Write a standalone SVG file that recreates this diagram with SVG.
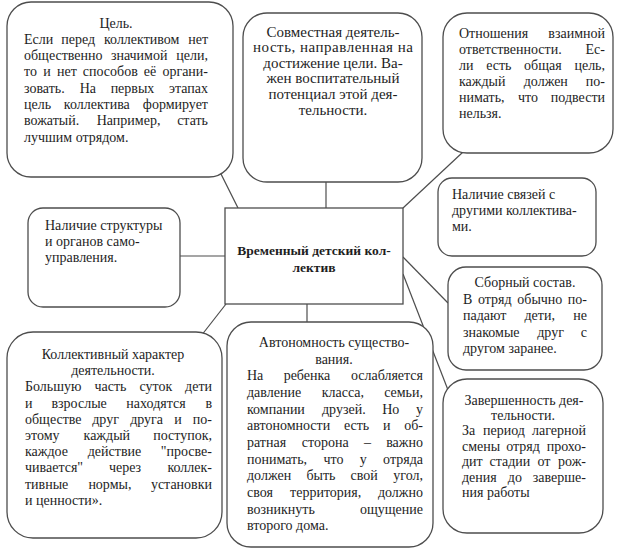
<svg xmlns="http://www.w3.org/2000/svg" width="619" height="549" viewBox="0 0 619 549">
<style>
.b{fill:#fff;stroke:#4d4d4d;stroke-width:1.3}
.t{font-family:'Liberation Serif','Times New Roman',serif;font-size:14px;fill:#1e1e1e}
.big{font-size:15px}
.h{font-weight:bold;font-size:13.5px}
.c{text-anchor:middle}
.e{text-anchor:end}
.ln{stroke:#4d4d4d;stroke-width:1.2;fill:none}
</style>
<rect width="619" height="549" fill="#fff"/>
<g id="connectors">
<line class="ln" x1="238" y1="208" x2="217" y2="166"/>
<line class="ln" x1="326" y1="182" x2="326" y2="208"/>
<line class="ln" x1="403" y1="208" x2="463" y2="152"/>
<line class="ln" x1="180" y1="256" x2="225" y2="256"/>
<line class="ln" x1="403" y1="257" x2="448" y2="303"/>
<line class="ln" x1="403" y1="274" x2="448" y2="390"/>
<line class="ln" x1="226" y1="304" x2="201" y2="336"/>
<line class="ln" x1="307" y1="304" x2="307" y2="322"/>
</g>
<g id="n-goal">
<rect class="b" x="7" y="2" width="226" height="175" rx="24"/>
<text class="t c" x="116" y="27.5">Цель.</text>
<text class="t" y="43.8"><tspan x="24">Если</tspan><tspan x="78.3" class="c">перед</tspan><tspan x="141.7" class="c">коллективом</tspan><tspan x="208" class="e">нет</tspan></text>
<text class="t" y="60.1"><tspan x="24">общественно</tspan><tspan x="139.2" class="c">значимой</tspan><tspan x="208" class="e">цели,</tspan></text>
<text class="t" y="76.4"><tspan x="24">то</tspan><tspan x="47.1" class="c">и</tspan><tspan x="66.9" class="c">нет</tspan><tspan x="110.3" class="c">способов</tspan><tspan x="149.9" class="c">её</tspan><tspan x="208" class="e">органи-</tspan></text>
<text class="t" y="92.7"><tspan x="24">зовать.</tspan><tspan x="87.9" class="c">На</tspan><tspan x="132.5" class="c">первых</tspan><tspan x="208" class="e">этапах</tspan></text>
<text class="t" y="109"><tspan x="24">цель</tspan><tspan x="96.8" class="c">коллектива</tspan><tspan x="208" class="e">формирует</tspan></text>
<text class="t" y="125.3"><tspan x="24">вожатый.</tspan><tspan x="128.6" class="c">Например,</tspan><tspan x="208" class="e">стать</tspan></text>
<text class="t" x="24" y="141.6">лучшим отрядом.</text>
</g>
<g id="n-joint">
<rect class="b" x="243" y="13" width="179" height="169" rx="24"/>
<text class="t big c" x="333" y="36.5">Совместная деятель-</text>
<text class="t big c" x="333" y="52.1" textLength="160" lengthAdjust="spacing">ность, направленная на</text>
<text class="t big c" x="333" y="67.7">достижение цели. Ва-</text>
<text class="t big c" x="333" y="83.3">жен воспитательный</text>
<text class="t big c" x="333" y="98.9">потенциал этой дея-</text>
<text class="t big c" x="333" y="114.5">тельности.</text>
</g>
<g id="n-resp">
<rect class="b" x="443" y="13" width="170" height="140" rx="24"/>
<text class="t" y="37.8"><tspan x="459">Отношения</tspan><tspan x="605" class="e">взаимной</tspan></text>
<text class="t" y="53.8"><tspan x="459">ответственности.</tspan><tspan x="605" class="e">Ес-</tspan></text>
<text class="t" y="69.8"><tspan x="459">ли</tspan><tspan x="498.8" class="c">есть</tspan><tspan x="542.8" class="c">общая</tspan><tspan x="605" class="e">цель,</tspan></text>
<text class="t" y="85.8"><tspan x="459">каждый</tspan><tspan x="545.8" class="c">должен</tspan><tspan x="605" class="e">по-</tspan></text>
<text class="t" y="101.8"><tspan x="459">нимать,</tspan><tspan x="527.9" class="c">что</tspan><tspan x="605" class="e">подвести</tspan></text>
<text class="t" x="459" y="117.8">нельзя.</text>
</g>
<g id="n-struct">
<rect class="b" x="28" y="208" width="152" height="99" rx="15"/>
<text class="t" x="45" y="229.5">Наличие структуры</text>
<text class="t" x="45" y="245.5">и органов само-</text>
<text class="t" x="45" y="261.5">управления.</text>
</g>
<g id="n-center">
<rect class="b" x="225" y="208" width="178" height="96"/>
<text class="t h c" x="314" y="254.5">Временный детский кол-</text>
<text class="t h c" x="314" y="272">лектив</text>
</g>
<g id="n-links">
<rect class="b" x="438" y="178" width="158" height="78" rx="14"/>
<text class="t" x="452" y="199">Наличие связей с</text>
<text class="t" x="452" y="215">другими коллектива-</text>
<text class="t" x="452" y="231">ми.</text>
</g>
<g id="n-mixed">
<rect class="b" x="448" y="267" width="154" height="103" rx="18"/>
<text class="t c" x="525" y="287">Сборный состав.</text>
<text class="t" y="303.6"><tspan x="463">В</tspan><tspan x="494.8" class="c">отряд</tspan><tspan x="539.8" class="c">обычно</tspan><tspan x="587" class="e">по-</tspan></text>
<text class="t" y="320.2"><tspan x="463">падают</tspan><tspan x="539.7" class="c">дети,</tspan><tspan x="587" class="e">не</tspan></text>
<text class="t" y="336.8"><tspan x="463">знакомые</tspan><tspan x="550.6" class="c">друг</tspan><tspan x="587" class="e">с</tspan></text>
<text class="t" x="463" y="353.4">другом заранее.</text>
</g>
<g id="n-complete">
<rect class="b" x="443" y="379" width="160" height="154" rx="24"/>
<text class="t c" x="524" y="404.5">Завершенность дея-</text>
<text class="t c" x="523" y="419.9">тельности.</text>
<text class="t" y="435.3"><tspan x="462">За</tspan><tspan x="503.9" class="c">период</tspan><tspan x="586" class="e">лагерной</tspan></text>
<text class="t" y="450.7"><tspan x="462">смены</tspan><tspan x="523" class="c">отряд</tspan><tspan x="586" class="e">прохо-</tspan></text>
<text class="t" y="466.1"><tspan x="462">дит</tspan><tspan x="509.9" class="c">стадии</tspan><tspan x="543.9" class="c">от</tspan><tspan x="586" class="e">рож-</tspan></text>
<text class="t" y="481.5"><tspan x="462">дения</tspan><tspan x="514.9" class="c">до</tspan><tspan x="586" class="e">заверше-</tspan></text>
<text class="t" x="462" y="497">ния работы</text>
</g>
<g id="n-collective">
<rect class="b" x="7" y="332" width="215" height="206" rx="26"/>
<text class="t c" x="113" y="359">Коллективный характер</text>
<text class="t c" x="113" y="375.2">деятельности.</text>
<text class="t" y="391.4"><tspan x="25">Большую</tspan><tspan x="110.5" class="c">часть</tspan><tspan x="155.9" class="c">суток</tspan><tspan x="212" class="e">дети</tspan></text>
<text class="t" y="407.6"><tspan x="25">и</tspan><tspan x="79.1" class="c">взрослые</tspan><tspan x="156" class="c">находятся</tspan><tspan x="212" class="e">в</tspan></text>
<text class="t" y="423.8"><tspan x="25">обществе</tspan><tspan x="105.6" class="c">друг</tspan><tspan x="146.6" class="c">друга</tspan><tspan x="178" class="c">и</tspan><tspan x="212" class="e">по-</tspan></text>
<text class="t" y="440"><tspan x="25">этому</tspan><tspan x="106.8" class="c">каждый</tspan><tspan x="212" class="e">поступок,</tspan></text>
<text class="t" y="456.2"><tspan x="25">каждое</tspan><tspan x="114.5" class="c">действие</tspan><tspan x="212" class="e">"просве-</tspan></text>
<text class="t" y="472.4"><tspan x="25">чивается"</tspan><tspan x="125" class="c">через</tspan><tspan x="212" class="e">коллек-</tspan></text>
<text class="t" y="488.6"><tspan x="25">тивные</tspan><tspan x="109.9" class="c">нормы,</tspan><tspan x="212" class="e">установки</tspan></text>
<text class="t" x="25" y="504.8">и ценности».</text>
</g>
<g id="n-autonomy">
<rect class="b" x="227" y="322" width="206" height="225" rx="24"/>
<text class="t c" x="334" y="347">Автономность существо-</text>
<text class="t c" x="334" y="363.7">вания.</text>
<text class="t" y="380.3"><tspan x="247">На</tspan><tspan x="307" class="c">ребенка</tspan><tspan x="423" class="e">ослабляется</tspan></text>
<text class="t" y="397"><tspan x="247">давление</tspan><tspan x="342.9" class="c">класса,</tspan><tspan x="423" class="e">семьи,</tspan></text>
<text class="t" y="413.7"><tspan x="247">компании</tspan><tspan x="343.8" class="c">друзей.</tspan><tspan x="390.8" class="c">Но</tspan><tspan x="423" class="e">у</tspan></text>
<text class="t" y="430.3"><tspan x="247">автономности</tspan><tspan x="356.6" class="c">есть</tspan><tspan x="386.7" class="c">и</tspan><tspan x="423" class="e">об-</tspan></text>
<text class="t" y="447"><tspan x="247">ратная</tspan><tspan x="325.3" class="c">сторона</tspan><tspan x="367.4" class="c">–</tspan><tspan x="423" class="e">важно</tspan></text>
<text class="t" y="463.7"><tspan x="247">понимать,</tspan><tspan x="333.5" class="c">что</tspan><tspan x="363.2" class="c">у</tspan><tspan x="423" class="e">отряда</tspan></text>
<text class="t" y="480.3"><tspan x="247">должен</tspan><tspan x="320.9" class="c">быть</tspan><tspan x="364.1" class="c">свой</tspan><tspan x="423" class="e">угол,</tspan></text>
<text class="t" y="497"><tspan x="247">своя</tspan><tspan x="325.7" class="c">территория,</tspan><tspan x="423" class="e">должно</tspan></text>
<text class="t" y="513.7"><tspan x="247">возникнуть</tspan><tspan x="423" class="e">ощущение</tspan></text>
<text class="t" x="247" y="530.3">второго дома.</text>
</g>
</svg>
